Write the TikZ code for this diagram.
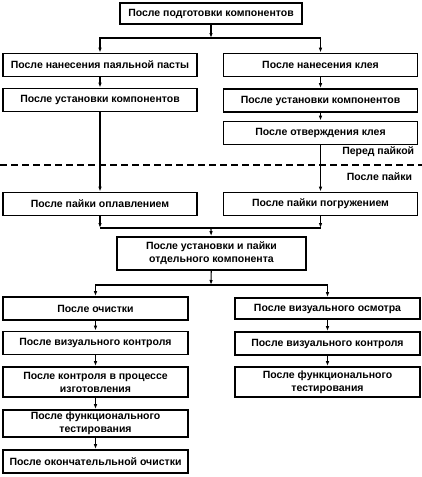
\documentclass[tikz,border=0pt]{standalone}
\usepackage{fontspec}
\setmainfont{Liberation Sans}
\usetikzlibrary{arrows.meta,positioning,calc}

\begin{document}
\begin{tikzpicture}[x=1pt,y=-1pt,line width=1.1pt,box/.style={draw,line width=1.6pt,minimum height=23pt,inner sep=1pt,align=center,font=\fontsize{10.5}{13}\selectfont\bfseries},wide/.style={box,minimum width=194pt},col/.style={box,minimum width=185pt},lbl/.style={anchor=east,font=\fontsize{10.5}{13}\selectfont\bfseries},>={Latex[length=5pt,width=3.5pt]}]
 \useasboundingbox (0,0) rectangle (422,477);
 \node[box,minimum width=182pt,minimum height=21pt] (prep) at (211,13.5) {После подготовки компонентов};
 \node[wide] (paste) at (100,65) {После нанесения паяльной пасты};
 \node[wide] (glue) at (320.5,65) {После нанесения клея};
 \node[wide] (placeL) at (100,100) {После установки компонентов};
 \node[wide] (placeR) at (320.5,100.5) {После установки компонентов};
 \node[wide] (cure) at (320.5,133) {После отверждения клея};
 \node[wide] (reflow) at (100,204) {После пайки оплавлением};
 \node[wide] (wave) at (320.5,204) {После пайки погружением};
 \node[box,minimum width=189pt,minimum height=33pt] (single) at (211.5,253.5) {После установки и пайки\\отдельного компонента};
 \node[col] (clean) at (95.5,308.5) {После очистки};
 \node[col] (visL) at (95.5,343) {После визуального контроля};
 \node[col,minimum height=30pt] (proc) at (95.5,382) {После контроля в процессе\\изготовления};
 \node[col,minimum height=27pt] (funcL) at (95.5,423.5) {После функционального\\тестирования};
 \node[col] (final) at (95.5,461.5) {После окончательльной очистки};
 \node[col,minimum height=21pt] (inspect) at (327.5,308.5) {После визуального осмотра};
 \node[col] (visR) at (327.5,343.5) {После визуального контроля};
 \node[col,minimum height=30pt] (funcR) at (327.5,382) {После функционального\\тестирования};
 \node[lbl] (before) at (418,152) {Перед пайкой};
 \node[lbl] (after) at (416,177) {После пайки};
 % soldering boundary
 \coordinate (dl) at (0,165); \coordinate (dr) at (422,165);
 \draw[line width=1.4pt,dash pattern=on 7pt off 4pt] (dl) -- (dr);
 \coordinate (s1) at (211,38); \coordinate (s2) at (211,228); \coordinate (s3) at (211,285);
 \draw[->] (prep) -- (s1); \draw[->] (s1) -| (paste); \draw[->] (s1) -| (glue);
 \draw[->] (paste) -- (placeL); \draw[->] (glue) -- (placeR); \draw[->] (placeR) -- (cure);
 \draw[->] (placeL) -- (reflow); \draw[->] (cure) -- (wave);
 \draw[->] (reflow) -- (reflow |- s2); \draw[->] (wave) -- (wave |- s2); \draw (reflow |- s2) -- (wave |- s2);
 \draw[->] (s2) -- (single);
 \draw[->] (single) -- (s3); \draw[->] (s3) -| (clean); \draw[->] (s3) -| (inspect);
 \foreach \a/\b in {clean/visL,visL/proc,proc/funcL,funcL/final,inspect/visR,visR/funcR}
  \draw[->] (\a) -- (\b);
\end{tikzpicture}
\end{document}
